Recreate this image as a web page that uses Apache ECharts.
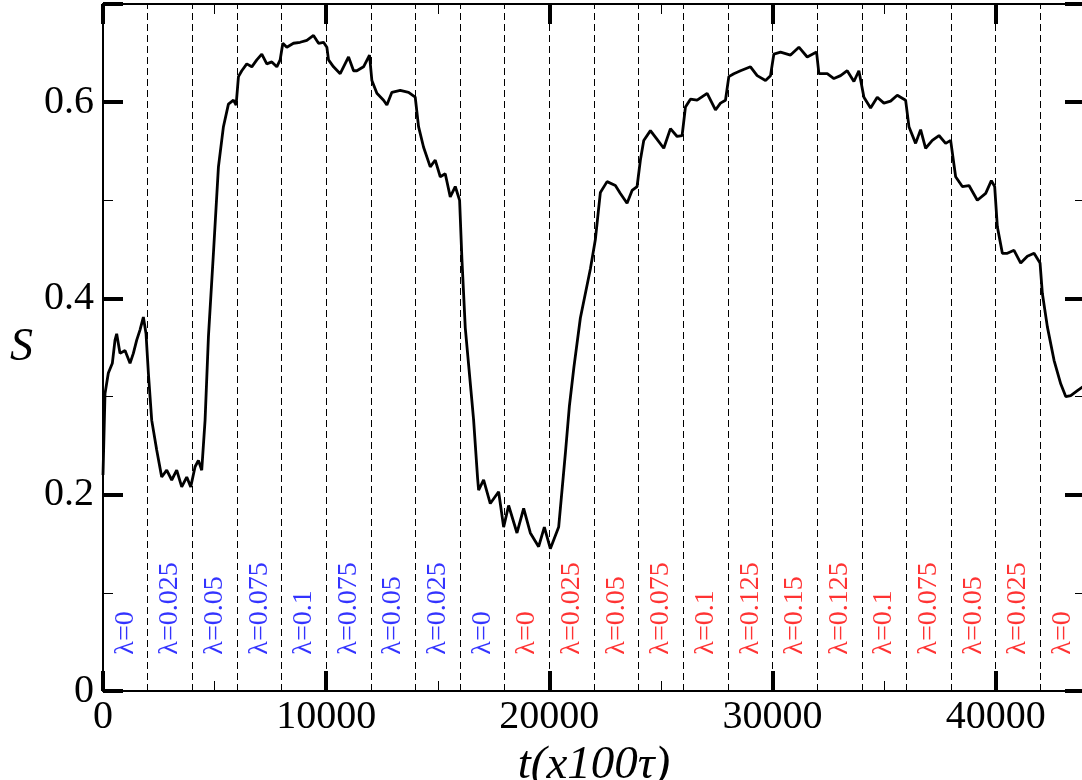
<!DOCTYPE html>
<html>
<head>
<meta charset="utf-8">
<script src="https://cdn.jsdelivr.net/npm/echarts@6/dist/echarts.min.js"></script>
<style>
html,body{margin:0;padding:0;background:#fff;}
#chart{width:1082px;height:780px;}
</style>
</head>
<body>
<div id="chart"></div>
<script>
// ---- data ----
const tValues = [0,90,239,419,538,613,762,987,1211,1360,1510,1659,1809,1928,2033,2182,2406,2630,2855,3079,3303,3527,3752,3931,4125,4275,4424,4574,4724,4948,5172,5396,5620,5845,5964,6069,6218,6442,6667,6891,7115,7339,7564,7788,7937,8057,8236,8535,8834,9133,9432,9657,9881,10030,10105,10329,10628,11002,11227,11375,11674,11942,12048,12272,12571,12720,12944,13318,13691,13990,14139,14364,14663,14887,15111,15335,15559,15784,15978,
  16082,16232,16531,16606,16785,16830,17054,17353,17727,17951,18175,18549,18848,19147,19520,19775,20044,20417,20492,20717,20896,21100,21389,21837,22061,22200,22286,22585,
  22958,23182,23481,23706,23930,24079,24229,24528,24827,25126,25425,25724,25948,26097,26321,26620,27069,27443,27667,27891,28041,28265,28564,29012,29311,29685,29909,30059,30358,30806,31180,31554,31972,32077,32450,32749,33048,33346,33645,33869,34094,34393,34692,34990,35289,35588,35962,36112,36410,36635,36859,37158,37457,37756,37980,38204,38503,38802,39176,39550,39804,39953,40073,40297,40521,40820,41119,41418,41717,41986,42090,42314,42613,42912,43137,43361,43660,43899];
const sValues = [0.22,0.303,0.324,0.334,0.3575,0.364,0.344,0.347,0.334,0.344,0.3575,0.368,0.381,0.364,0.324,0.276,0.2455,0.218,0.225,0.215,0.225,0.208,0.218,0.208,0.2285,0.235,0.225,0.276,0.361,0.446,0.534,0.575,0.598,0.602,0.597,0.626,0.632,0.639,0.636,0.643,0.649,0.639,0.641,0.636,0.643,0.66,0.656,0.66,0.661,0.663,0.668,0.66,0.661,0.656,0.643,0.636,0.629,0.646,0.632,0.632,0.636,0.648,0.622,0.609,0.602,0.597,0.61,0.612,0.61,0.605,0.575,0.554,0.534,0.541,0.524,0.527,0.5035,0.514,0.5,
  0.44,0.37,0.295,0.276,0.2166,0.2047,0.215,0.191,0.203,0.167,0.189,0.161,0.186,0.161,0.147,0.167,0.145,0.167,0.167,0.242,0.29,0.33,0.38,0.43,0.46,0.49,0.508,0.519,
  0.515,0.507,0.497,0.51,0.514,0.541,0.561,0.571,0.562,0.553,0.573,0.565,0.566,0.595,0.603,0.602,0.609,0.592,0.599,0.602,0.626,0.629,0.632,0.636,0.627,0.622,0.627,0.649,0.651,0.648,0.656,0.646,0.651,0.629,0.629,0.624,0.627,0.632,0.621,0.632,0.605,0.594,0.605,0.599,0.601,0.607,0.602,0.575,0.558,0.572,0.553,0.561,0.566,0.558,0.561,0.524,0.514,0.515,0.5,0.507,0.52,0.514,0.473,0.446,0.446,0.449,0.436,0.443,0.446,0.436,0.405,0.371,0.337,0.313,0.3,0.301,0.306,0.31];
const dividerT = [2000,4000,6000,8000,10000,12000,14000,16000,18000,20000,22000,24000,26000,28000,30000,32000,34000,36000,38000,40000,42000];
const labelMidT = [1000,3000,5000,7000,9000,11000,13000,15000,17000,19000,21000,23000,25000,27000,29000,31000,33000,35000,37000,39000,41000,43000];
const lambdaLabels = ['λ=0','λ=0.025','λ=0.05','λ=0.075','λ=0.1','λ=0.075','λ=0.05','λ=0.025','λ=0',
  'λ=0','λ=0.025','λ=0.05','λ=0.075','λ=0.1','λ=0.125','λ=0.15','λ=0.125','λ=0.1','λ=0.075','λ=0.05','λ=0.025','λ=0'];
const firstRunCount = 9; // labels of the first (blue) run
const xTicks = ['0','10000','20000','30000','40000'];
const yTicks = ['0','0.2','0.4','0.6'];

// ---- chart ----
const FONT = 'Liberation Serif';
const labelBaseS = 0.037;
const chart = echarts.init(document.getElementById('chart'), null, {renderer:'canvas'});

const tickCommon = {show:true, inside:true, length:20, lineStyle:{color:'#000', width:4}};
const minorCommon = {show:true, splitNumber:2, length:10, lineStyle:{color:'#000', width:1}};
const axisLineCommon = {show:true, onZero:false, lineStyle:{color:'#000', width:2}};

const option = {
  animation:false,
  backgroundColor:'#fff',
  grid:{left:103, right:-3, top:4, bottom:89, containLabel:false, outerBoundsMode:'none'},
  xAxis:[{
    type:'value', position:'bottom', min:0, max:44000, interval:10000,
    axisLine:axisLineCommon, axisTick:tickCommon, minorTick:minorCommon,
    splitLine:{show:false},
    axisLabel:{show:true, margin:6, color:'#000', fontFamily:FONT, fontSize:40,
      formatter:(v)=>{const i=Math.round(v/10000); return xTicks[i]!==undefined && v%10000===0 ? xTicks[i] : '';}},
    name:'t(x100τ)', nameLocation:'middle', nameGap:35,
    nameTextStyle:{color:'#000', fontFamily:FONT, fontSize:47, fontStyle:'italic'}
  },{
    type:'value', position:'top', min:0, max:44000, interval:10000,
    axisLine:axisLineCommon, axisTick:tickCommon, minorTick:minorCommon,
    splitLine:{show:false}, axisLabel:{show:false}
  }],
  yAxis:[{
    type:'value', position:'left', min:0, max:0.7, interval:0.2,
    axisLine:axisLineCommon, axisTick:tickCommon, minorTick:minorCommon,
    splitLine:{show:false},
    axisLabel:{show:true, margin:9, color:'#000', fontFamily:FONT, fontSize:40,
      formatter:(v)=>{const i=Math.round(v/0.2); return Math.abs(v-i*0.2)<1e-9 && yTicks[i]!==undefined ? yTicks[i] : '';}},
    name:'S', nameLocation:'middle', nameGap:70, nameRotate:0,
    nameTextStyle:{color:'#000', fontFamily:FONT, fontSize:46, fontStyle:'italic'}
  },{
    type:'value', position:'right', min:0, max:0.7, interval:0.2,
    axisLine:axisLineCommon, axisTick:tickCommon, minorTick:minorCommon,
    splitLine:{show:false}, axisLabel:{show:false}
  }],
  series:[{
    type:'line', xAxisIndex:0, yAxisIndex:0,
    data:tValues.map((t,i)=>[t,sValues[i]]),
    showSymbol:false, symbol:'none', smooth:false,
    lineStyle:{color:'#000', width:2.8},
    z:3,
    markLine:{
      silent:true, symbol:['none','none'], label:{show:false},
      lineStyle:{color:'#000', width:1, type:[7,4]},
      data:dividerT.map(t=>({xAxis:t}))
    }
  },{
    type:'scatter', xAxisIndex:0, yAxisIndex:0, symbolSize:1,
    itemStyle:{color:'rgba(0,0,0,0)'},
    data:labelMidT.map((t,i)=>({
      value:[t,labelBaseS], name:lambdaLabels[i],
      label:{color: i<firstRunCount ? '#0000ff' : '#ff0000', fontFamily:FONT, fontSize:28}
    })),
    label:{show:true, position:'inside', rotate:90, align:'left', verticalAlign:'middle',
      fontFamily:FONT, fontSize:28, formatter:(p)=>p.name},
    z:4
  }]
};
chart.setOption(option);
</script>
</body>
</html>
